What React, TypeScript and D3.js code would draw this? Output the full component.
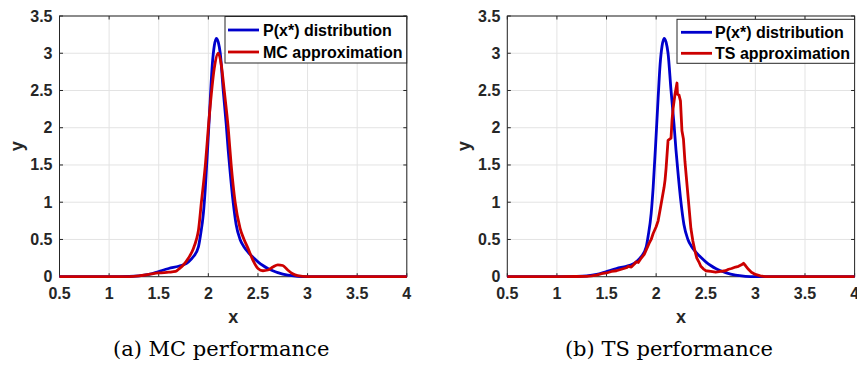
import * as d3 from 'd3';

// ---- data ----
const xTicks = [0.5, 1, 1.5, 2, 2.5, 3, 3.5, 4];
const yTicks = [0, 0.5, 1, 1.5, 2, 2.5, 3, 3.5];

// P(x*) distribution (same in both panels)
const pX = [0.5, 1.0, 1.2, 1.3, 1.4, 1.5, 1.6, 1.7, 1.75, 1.8, 1.85, 1.9, 1.92, 1.95, 1.97, 2.0, 2.02, 2.04, 2.06, 2.08, 2.1, 2.12, 2.15, 2.18, 2.2, 2.22, 2.25, 2.28, 2.32, 2.36, 2.4, 2.45, 2.5, 2.55, 2.6, 2.65, 2.7, 2.75, 2.8, 2.9, 3.0, 4.0];
const pY = [0, 0, 0.003, 0.01, 0.03, 0.07, 0.11, 0.14, 0.16, 0.2, 0.27, 0.4, 0.55, 0.85, 1.2, 1.9, 2.4, 2.85, 3.1, 3.2, 3.15, 3.0, 2.5, 2.05, 1.7, 1.4, 1.0, 0.7, 0.5, 0.4, 0.33, 0.26, 0.2, 0.15, 0.11, 0.08, 0.055, 0.035, 0.02, 0.005, 0, 0];

// MC approximation
const mcX = [0.5, 1.2, 1.3, 1.4, 1.5, 1.6, 1.67, 1.7, 1.75, 1.8, 1.85, 1.88, 1.9, 1.93, 1.97, 2.0, 2.03, 2.06, 2.1, 2.13, 2.16, 2.2, 2.23, 2.27, 2.32, 2.36, 2.4, 2.45, 2.5, 2.55, 2.6, 2.65, 2.7, 2.75, 2.8, 2.85, 2.9, 3.0, 4.0];
const mcY = [0, 0.002, 0.01, 0.03, 0.05, 0.06, 0.07, 0.1, 0.16, 0.25, 0.38, 0.5, 0.62, 1.0, 1.5, 2.0, 2.45, 2.8, 3.0, 2.85, 2.5, 2.0, 1.5, 1.0, 0.65, 0.5, 0.38, 0.22, 0.11, 0.08, 0.09, 0.13, 0.16, 0.15, 0.09, 0.04, 0.015, 0, 0];

// TS approximation
const tsX = [0.5, 1.0, 1.2, 1.3, 1.35, 1.4, 1.45, 1.5, 1.55, 1.6, 1.65, 1.7, 1.72, 1.75, 1.78, 1.8, 1.82, 1.85, 1.88, 1.9, 1.93, 1.95, 1.97, 2.0, 2.02, 2.04, 2.06, 2.08, 2.09, 2.1, 2.12, 2.15, 2.16, 2.17, 2.19, 2.21, 2.215, 2.23, 2.245, 2.26, 2.275, 2.29, 2.31, 2.33, 2.35, 2.37, 2.39, 2.41, 2.43, 2.45, 2.48, 2.5, 2.55, 2.6, 2.65, 2.7, 2.73, 2.76, 2.8, 2.83, 2.86, 2.88, 2.9, 2.93, 2.96, 3.0, 3.05, 3.1, 4.0];
const tsY = [0, 0, 0.003, 0.005, 0.01, 0.02, 0.04, 0.05, 0.07, 0.08, 0.1, 0.12, 0.14, 0.13, 0.17, 0.2, 0.19, 0.25, 0.3, 0.36, 0.45, 0.5, 0.58, 0.67, 0.75, 0.9, 1.05, 1.2, 1.3, 1.45, 1.83, 1.86, 2.1, 2.25, 2.45, 2.6, 2.45, 2.44, 2.36, 1.96, 1.85, 1.55, 1.25, 0.95, 0.65, 0.48, 0.35, 0.25, 0.2, 0.14, 0.1, 0.08, 0.07, 0.06, 0.07, 0.08, 0.1, 0.11, 0.13, 0.14, 0.16, 0.18, 0.15, 0.1, 0.06, 0.03, 0.01, 0, 0];

const legendP = 'P(x*) distribution';
const legendMC = 'MC approximation';
const legendTS = 'TS approximation';
const captionA = '(a) MC performance';
const captionB = '(b) TS performance';

const BLUE = '#0000cc';
const RED = '#cc0000';
const AXIS = '#262626';
const GRID = '#e3e3e3';
const SANS = 'Arial, "Liberation Sans", Helvetica, sans-serif';

const zip = (xs: number[], ys: number[]) => xs.map((x, i) => [x, ys[i]] as [number, number]);

interface PanelProps {
  x0: number;
  approx: [number, number][];
  approxLabel: string;
  smooth: boolean;
  caption: string;
  legend: { x: number; y: number; w: number; h: number; lineX: number; textX: number; rows: number[] };
}

function Panel({ x0, approx, approxLabel, smooth, caption, legend }: PanelProps) {
  const top = 16;
  const bottom = 276.7;
  const w = 347.3;
  const xScale = d3.scaleLinear().domain([0.5, 4]).range([x0, x0 + w]);
  const yScale = d3.scaleLinear().domain([0, 3.5]).range([bottom, top]);
  const line = d3.line<[number, number]>()
    .x(d => xScale(d[0]))
    .y(d => yScale(d[1]))
    .curve(d3.curveMonotoneX);
  const rough = d3.line<[number, number]>()
    .x(d => xScale(d[0]))
    .y(d => yScale(d[1]));
  const tick = 3.5;
  const cx = x0 + w / 2;

  return (
    <g>
      {/* grid */}
      {xTicks.map(t => (
        <line key={'gx' + t} x1={xScale(t)} x2={xScale(t)} y1={top} y2={bottom} stroke={GRID} strokeWidth={1} />
      ))}
      {yTicks.map(t => (
        <line key={'gy' + t} x1={x0} x2={x0 + w} y1={yScale(t)} y2={yScale(t)} stroke={GRID} strokeWidth={1} />
      ))}
      {/* box + inward ticks */}
      <rect x={x0} y={top} width={w} height={bottom - top} fill="none" stroke={AXIS} strokeWidth={1} />
      {xTicks.map(t => (
        <g key={'tx' + t}>
          <line x1={xScale(t)} x2={xScale(t)} y1={bottom} y2={bottom - tick} stroke={AXIS} />
          <line x1={xScale(t)} x2={xScale(t)} y1={top} y2={top + tick} stroke={AXIS} />
          <text x={xScale(t)} y={299} textAnchor="middle" fontFamily={SANS} fontWeight="bold" fontSize={16} fill={AXIS}>{t}</text>
        </g>
      ))}
      {yTicks.map(t => (
        <g key={'ty' + t}>
          <line x1={x0} x2={x0 + tick} y1={yScale(t)} y2={yScale(t)} stroke={AXIS} />
          <line x1={x0 + w} x2={x0 + w - tick} y1={yScale(t)} y2={yScale(t)} stroke={AXIS} />
          <text x={x0 - 7} y={yScale(t) + 5.5} textAnchor="end" fontFamily={SANS} fontWeight="bold" fontSize={16} fill={AXIS}>{t}</text>
        </g>
      ))}
      {/* curves */}
      <path d={line(zip(pX, pY)) ?? ''} fill="none" stroke={BLUE} strokeWidth={2.8} strokeLinejoin="round" />
      <path d={(smooth ? line(approx) : rough(approx)) ?? ''} fill="none" stroke={RED} strokeWidth={2.8} strokeLinejoin="round" />
      {/* axis labels */}
      <text x={cx} y={323} textAnchor="middle" fontFamily={SANS} fontWeight="bold" fontSize={18} fill={AXIS}>x</text>
      <text transform={`translate(${x0 - 37},${(top + bottom) / 2}) rotate(-90)`} textAnchor="middle" fontFamily={SANS} fontWeight="bold" fontSize={18} fill={AXIS}>y</text>
      {/* legend */}
      <rect x={legend.x} y={legend.y} width={legend.w} height={legend.h} fill="#fff" stroke={AXIS} strokeWidth={1} />
      {[[legendP, BLUE], [approxLabel, RED]].map(([label, color], i) => (
        <g key={label}>
          <line x1={legend.lineX} x2={legend.lineX + 31} y1={legend.rows[i]} y2={legend.rows[i]} stroke={color} strokeWidth={2.8} />
          <text x={legend.textX} y={legend.rows[i] + 5.5} fontFamily={SANS} fontWeight="bold" fontSize={16} fill="#000">{label}</text>
        </g>
      ))}
      {/* caption */}
      <text x={cx - 12} y={356} textAnchor="middle" fontFamily='"DejaVu Serif", serif' fontSize={21} fill="#000">{caption}</text>
    </g>
  );
}

export default function App() {
  return (
    <div style={{ position: 'absolute', left: 0, top: 0 }}>
      <svg width={857} height={365} style={{ display: 'block', background: '#fff' }}>
        <Panel
          x0={59.5}
          approx={zip(mcX, mcY)}
          approxLabel={legendMC}
          smooth={true}
          caption={captionA}
          legend={{ x: 225, y: 16.5, w: 181.7, h: 46.5, lineX: 228, textX: 263, rows: [30, 52] }}
        />
        <Panel
          x0={507.3}
          approx={zip(tsX, tsY)}
          approxLabel={legendTS}
          smooth={false}
          caption={captionB}
          legend={{ x: 677, y: 19.3, w: 177.6, h: 44, lineX: 681, textX: 715, rows: [32.3, 53.3] }}
        />
      </svg>
    </div>
  );
}
